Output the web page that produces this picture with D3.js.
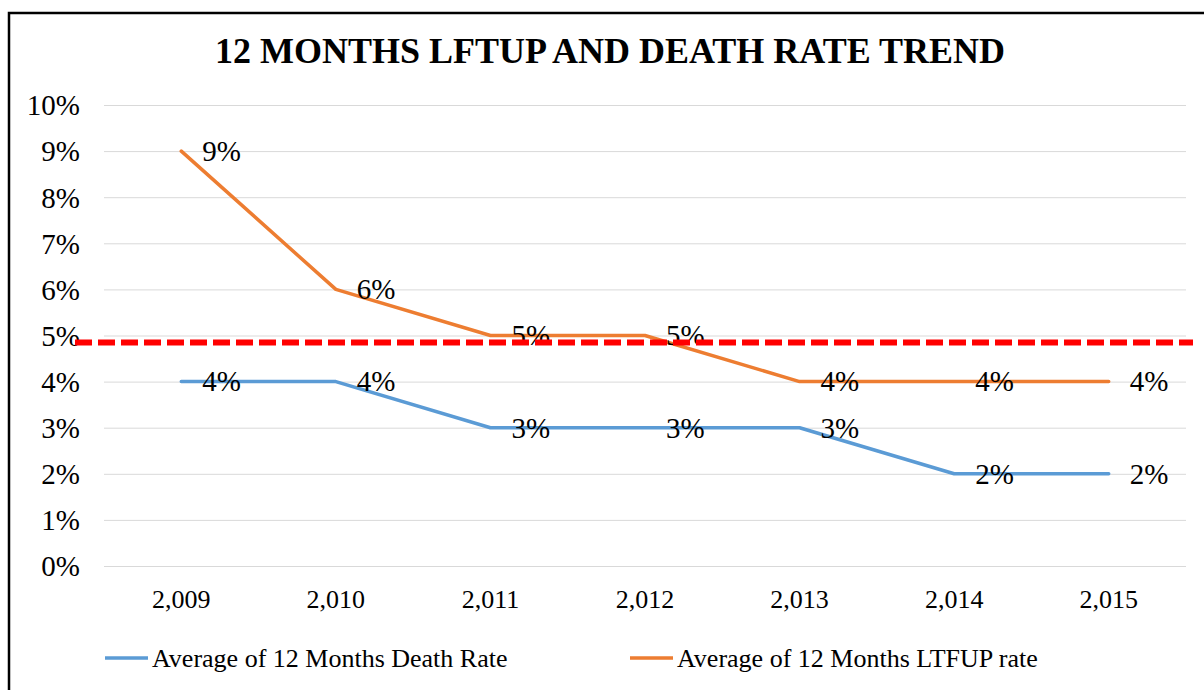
<!DOCTYPE html>
<html><head><meta charset="utf-8">
<script src="https://cdn.jsdelivr.net/npm/d3@7"></script>
<style>html,body{margin:0;padding:0;background:#fff;overflow:hidden}</style>
</head><body>
<svg id="c" width="1204" height="690"></svg>
<script>
const years = [2009, 2010, 2011, 2012, 2013, 2014, 2015];
const deathRate = [0.04, 0.04, 0.03, 0.03, 0.03, 0.02, 0.02];
const ltfupRate = [0.09, 0.06, 0.05, 0.05, 0.04, 0.04, 0.04];
const yTicks = [0, 0.01, 0.02, 0.03, 0.04, 0.05, 0.06, 0.07, 0.08, 0.09, 0.10];
const targetLine = 0.0485;
const seriesNames = ["Average of 12 Months Death Rate", "Average of 12 Months LTFUP rate"];
const titleText = "12 MONTHS LFTUP AND DEATH RATE TREND";

const svg = d3.select("#c");
const font = "'Liberation Serif','Times New Roman',serif";
const colors = ["#5B9BD5", "#ED7D31"];

// frame
svg.append("rect").attr("x", 9).attr("y", 13).attr("width", 1210).attr("height", 700)
  .attr("fill", "none").attr("stroke", "#000").attr("stroke-width", 2.5);

const L = 104, R = 1186, T = 105, B = 566;
const x = d3.scaleBand().domain(years).range([L, R]);
const y = d3.scaleLinear().domain([0, 0.10]).range([B, T]);
const cx = d => x(d) + x.bandwidth() / 2;

svg.append("text").attr("x", 610).attr("y", 63).attr("text-anchor", "middle")
  .attr("font-family", font).attr("font-weight", "bold").attr("font-size", 36)
  .attr("fill", "#000").text(titleText);

// grid
const yAxis = d3.axisLeft(y).tickValues(yTicks).tickFormat(d3.format(".0%")).tickSize(-(R - L)).tickPadding(24);
const gy = svg.append("g").attr("transform", `translate(${L},0)`).call(yAxis);
gy.select(".domain").remove();
gy.selectAll(".tick line").attr("stroke", "#d9d9d9").attr("stroke-width", 1);
gy.selectAll(".tick text").attr("font-family", font).attr("font-size", 29).attr("fill", "#000").attr("dy", "0.34em");

const xAxis = d3.axisBottom(x).tickFormat(d3.format(",")).tickSize(0).tickPadding(24);
const gx = svg.append("g").attr("transform", `translate(0,${B})`).call(xAxis);
gx.select(".domain").remove();
gx.selectAll(".tick text").attr("font-family", font).attr("font-size", 26).attr("fill", "#000");

const line = d3.line().x((d, i) => cx(years[i])).y(d => y(d));
[deathRate, ltfupRate].forEach((s, k) => {
  svg.append("path").datum(s).attr("d", line).attr("fill", "none")
    .attr("stroke", colors[k]).attr("stroke-width", 3.5).attr("stroke-linejoin", "round").attr("stroke-linecap", "round");
});
[deathRate, ltfupRate].forEach((s, k) => {
  svg.append("g").selectAll("text").data(s).join("text")
    .attr("x", (d, i) => cx(years[i]) + 21).attr("y", d => y(d)).attr("dy", "0.34em")
    .attr("font-family", font).attr("font-size", 29).attr("fill", "#000")
    .text(d => d3.format(".0%")(d));
});

// red dashed target
svg.append("line").attr("x1", 75).attr("x2", 1193).attr("y1", y(targetLine)).attr("y2", y(targetLine))
  .attr("stroke", "#FF0000").attr("stroke-width", 6).attr("stroke-dasharray", "17,6");

// legend
const legX = [105, 630];
seriesNames.forEach((n, k) => {
  svg.append("line").attr("x1", legX[k]).attr("x2", legX[k] + 43).attr("y1", 658).attr("y2", 658)
    .attr("stroke", colors[k]).attr("stroke-width", 3.5);
  svg.append("text").attr("x", legX[k] + 47).attr("y", 658).attr("dy", "0.34em")
    .attr("font-family", font).attr("font-size", 26).attr("fill", "#000").text(n);
});
</script>
</body></html>
